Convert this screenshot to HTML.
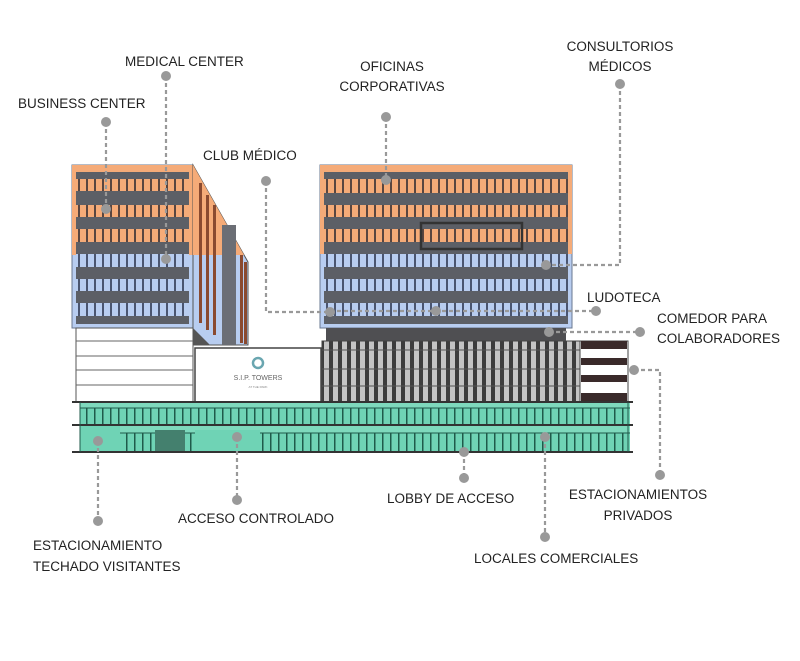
<!DOCTYPE html>
<html><head><meta charset="utf-8"><style>
html,body{margin:0;padding:0;background:#fff;width:800px;height:661px;overflow:hidden}
svg{display:block}
text{font-family:"Liberation Sans",sans-serif;font-size:13.5px;fill:#222}
</style></head><body>
<svg width="800" height="661" viewBox="0 0 800 661" xmlns="http://www.w3.org/2000/svg">
<defs>
<pattern id="po" width="8" height="14" patternUnits="userSpaceOnUse"><rect width="8" height="14" fill="#f5ab78"/><rect x="6" width="2" height="14" fill="#5a4640"/></pattern>
<pattern id="pb" width="8" height="14" patternUnits="userSpaceOnUse"><rect width="8" height="14" fill="#b8cdf0"/><rect x="6" width="2" height="14" fill="#4a5570"/></pattern>
<pattern id="pg" width="9" height="20" patternUnits="userSpaceOnUse"><rect width="9" height="20" fill="#c4c4c4"/><rect x="5" width="4" height="20" fill="#3d3d3d"/></pattern>
<pattern id="pt" width="8" height="20" patternUnits="userSpaceOnUse"><rect width="8" height="20" fill="#6fd3b5"/><rect x="6" width="1.5" height="20" fill="#1f5a4a"/></pattern>
</defs>

<!-- LEFT TOWER FRONT -->
<rect x="72" y="165" width="121" height="163" fill="#b8cdf0" stroke="#6a7890" stroke-width="1"/>
<rect x="72" y="165" width="121" height="90" fill="#f5ab78"/>
<g fill="#5c5f66">
<rect x="76" y="172" width="113" height="7"/><rect x="76" y="191" width="113" height="14"/>
<rect x="76" y="217" width="113" height="12"/><rect x="76" y="242" width="113" height="12"/>
<rect x="76" y="267" width="113" height="12"/><rect x="76" y="291" width="113" height="12"/>
<rect x="76" y="316" width="113" height="8"/></g>
<rect x="76" y="179" width="113" height="12" fill="url(#po)"/>
<rect x="76" y="205" width="113" height="12" fill="url(#po)"/>
<rect x="76" y="229" width="113" height="13" fill="url(#po)"/>
<rect x="76" y="254" width="113" height="13" fill="url(#pb)"/>
<rect x="76" y="279" width="113" height="12" fill="url(#pb)"/>
<rect x="76" y="303" width="113" height="13" fill="url(#pb)"/>
<!-- side -->
<polygon points="193,165 248,262 248,345 193,345" fill="#b8cdf0" stroke="#555" stroke-width="1"/>
<polygon points="193,165 244,255 193,255" fill="#f5ab78"/>
<g fill="#8a4a30"><rect x="199" y="183" width="3" height="140"/><rect x="206" y="195" width="3" height="135"/><rect x="213" y="205" width="3" height="130"/><rect x="240" y="255" width="3" height="88"/><rect x="244" y="262" width="3" height="82"/></g>
<rect x="222" y="225" width="14" height="120" fill="#6b6e75"/>
<polygon points="193,328 210,345 193,345" fill="#555"/>
<!-- white block -->
<rect x="76" y="328" width="117" height="74" fill="#fff" stroke="#555" stroke-width="1"/>
<g stroke="#666" stroke-width="1"><line x1="76" y1="341" x2="193" y2="341"/><line x1="76" y1="356" x2="193" y2="356"/><line x1="76" y1="370" x2="193" y2="370"/><line x1="76" y1="385" x2="193" y2="385"/></g>
<!-- sign -->
<rect x="195" y="348" width="126" height="54" fill="#fff" stroke="#444" stroke-width="1.5"/>
<circle cx="258" cy="363" r="5" fill="none" stroke="#6aa6b0" stroke-width="2.5"/>
<text x="258" y="380" text-anchor="middle" style="font-size:7px;fill:#666">S.I.P. TOWERS</text>
<text x="258" y="388" text-anchor="middle" style="font-size:3px;fill:#888">AT THE PARK</text>

<!-- RIGHT TOWER -->
<rect x="320" y="165" width="252" height="163" fill="#b8cdf0" stroke="#6a7890" stroke-width="1"/>
<rect x="320" y="165" width="252" height="89" fill="#f5ab78"/>
<g fill="#5c5f66">
<rect x="324" y="172" width="244" height="7"/><rect x="324" y="193" width="244" height="12"/>
<rect x="324" y="217" width="244" height="12"/><rect x="324" y="242" width="244" height="12"/>
<rect x="324" y="267" width="244" height="12"/><rect x="324" y="291" width="244" height="12"/>
<rect x="324" y="316" width="244" height="8"/></g>
<rect x="324" y="179" width="244" height="14" fill="url(#po)"/>
<rect x="324" y="205" width="244" height="12" fill="url(#po)"/>
<rect x="324" y="229" width="244" height="13" fill="url(#po)"/>
<rect x="324" y="254" width="244" height="13" fill="url(#pb)"/>
<rect x="324" y="279" width="244" height="12" fill="url(#pb)"/>
<rect x="324" y="303" width="244" height="13" fill="url(#pb)"/>
<rect x="421" y="223" width="101" height="26" fill="none" stroke="#333" stroke-width="2.5"/>
<rect x="326" y="328" width="240" height="13" fill="#4f4f52"/>
<!-- parking -->
<rect x="322" y="341" width="258" height="61" fill="url(#pg)" stroke="#444" stroke-width="1"/>
<g stroke="#555" stroke-width="1"><line x1="322" y1="350" x2="580" y2="350"/><line x1="322" y1="369" x2="580" y2="369"/><line x1="322" y1="386" x2="580" y2="386"/></g>
<rect x="580" y="341" width="48" height="61" fill="#fff" stroke="#444" stroke-width="1"/>
<g fill="#3a2a2a"><rect x="581" y="341" width="46" height="8"/><rect x="581" y="358" width="46" height="7"/><rect x="581" y="375" width="46" height="7"/><rect x="581" y="393" width="46" height="8"/></g>

<!-- GREEN BASE -->
<rect x="80" y="402" width="550" height="50" fill="url(#pt)"/>
<rect x="80" y="402" width="550" height="6" fill="#7ed9bd"/>
<rect x="80" y="425" width="550" height="8" fill="#7ed9bd"/>
<g stroke="#1f5a4a" stroke-width="1"><line x1="80" y1="408" x2="630" y2="408"/><line x1="80" y1="433" x2="630" y2="433"/></g>
<rect x="80" y="425" width="40" height="27" fill="#6fd3b5"/>
<rect x="155" y="430" width="30" height="22" fill="#44806e"/>
<rect x="195" y="430" width="65" height="22" fill="#6fd3b5"/>
<g stroke="#333" stroke-width="2"><line x1="72" y1="402" x2="633" y2="402"/><line x1="72" y1="425" x2="633" y2="425"/><line x1="72" y1="452" x2="633" y2="452"/></g>
<line x1="80" y1="402" x2="80" y2="452" stroke="#1f5a4a"/>
<line x1="628" y1="402" x2="628" y2="452" stroke="#1f5a4a"/>

<!-- LEADERS -->
<g stroke="#999" stroke-width="2.2" stroke-dasharray="4,3" fill="none">
<path d="M106 122V209"/><path d="M166 76V259"/><path d="M266 181V312H330"/>
<path d="M386 117V180"/><path d="M620 84V265H546"/><path d="M330 311H596"/>
<path d="M549 332H640"/><path d="M634 370H660V475"/><path d="M545 437V537"/>
<path d="M464 452V478"/><path d="M237 437V500"/><path d="M98 441V521"/>
</g>
<g fill="#999">
<circle cx="106" cy="122" r="5"/><circle cx="106" cy="209" r="5"/>
<circle cx="166" cy="76" r="5"/><circle cx="166" cy="259" r="5"/>
<circle cx="266" cy="181" r="5"/><circle cx="330" cy="312" r="5"/>
<circle cx="386" cy="117" r="5"/><circle cx="386" cy="180" r="5"/>
<circle cx="620" cy="84" r="5"/><circle cx="546" cy="265" r="5"/>
<circle cx="436" cy="311" r="5"/><circle cx="596" cy="311" r="5"/>
<circle cx="549" cy="332" r="5"/><circle cx="640" cy="332" r="5"/>
<circle cx="634" cy="370" r="5"/><circle cx="660" cy="475" r="5"/>
<circle cx="545" cy="437" r="5"/><circle cx="545" cy="537" r="5"/>
<circle cx="464" cy="452" r="5"/><circle cx="464" cy="478" r="5"/>
<circle cx="237" cy="437" r="5"/><circle cx="237" cy="500" r="5"/>
<circle cx="98" cy="441" r="5"/><circle cx="98" cy="521" r="5"/>
</g>

<!-- LABELS -->
<text x="18" y="108">BUSINESS CENTER</text>
<text x="125" y="66">MEDICAL CENTER</text>
<text x="203" y="160">CLUB MÉDICO</text>
<text x="392" y="71" text-anchor="middle">OFICINAS</text>
<text x="392" y="91" text-anchor="middle">CORPORATIVAS</text>
<text x="620" y="51" text-anchor="middle">CONSULTORIOS</text>
<text x="620" y="71" text-anchor="middle">MÉDICOS</text>
<text x="587" y="302">LUDOTECA</text>
<text x="657" y="323">COMEDOR PARA</text>
<text x="657" y="343">COLABORADORES</text>
<text x="638" y="499" text-anchor="middle">ESTACIONAMIENTOS</text>
<text x="638" y="520" text-anchor="middle">PRIVADOS</text>
<text x="474" y="563">LOCALES COMERCIALES</text>
<text x="387" y="503">LOBBY DE ACCESO</text>
<text x="178" y="523">ACCESO CONTROLADO</text>
<text x="33" y="550">ESTACIONAMIENTO</text>
<text x="33" y="571">TECHADO VISITANTES</text>
</svg>
</body></html>
